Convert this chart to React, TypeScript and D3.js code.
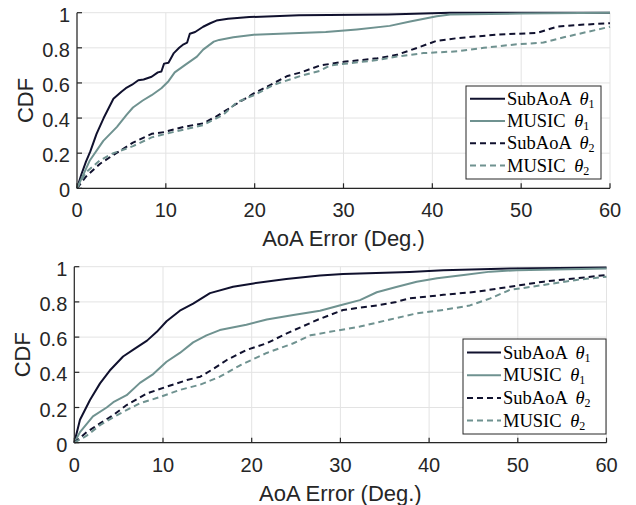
import React from "react";
import * as d3 from "d3";

type Pt = [number, number];

const xTicks = [0, 10, 20, 30, 40, 50, 60];
const yTicks = [0, 0.2, 0.4, 0.6, 0.8, 1];
const yTickLabels = ["0", "0.2", "0.4", "0.6", "0.8", "1"];
const seriesNames = ["SubAoA", "MUSIC", "SubAoA", "MUSIC"];
const seriesSubs = ["1", "1", "2", "2"];

// Top panel
const topSubAoA1: Pt[] = [[0,0],[0.5,0.08],[1,0.15],[1.5,0.21],[2.2,0.31],[3,0.4],[4.1,0.51],[5,0.55],[5.5,0.57],[6.2,0.59],[6.9,0.615],[7.5,0.62],[8.4,0.635],[9.1,0.66],[9.5,0.665],[9.8,0.71],[10.3,0.715],[10.9,0.77],[11.5,0.8],[12,0.82],[12.4,0.83],[12.7,0.88],[13.3,0.89],[14.2,0.92],[15,0.94],[15.7,0.955],[17,0.965],[19.4,0.975],[25,0.985],[35,0.99],[42,1],[60,1]];
const topMusic1: Pt[] = [[0,0],[1.46,0.16],[2.96,0.27],[4.5,0.35],[5.6,0.42],[6.3,0.46],[7.4,0.5],[8.4,0.53],[9.5,0.57],[10.3,0.61],[11,0.66],[12.1,0.7],[13.5,0.75],[14.2,0.79],[15.4,0.835],[16,0.845],[17.6,0.86],[19.9,0.875],[25,0.885],[28,0.89],[31.5,0.905],[35.2,0.925],[37.5,0.95],[40.5,0.98],[42,0.99],[50,0.995],[60,1]];
const topSubAoA2: Pt[] = [[0,0],[1,0.066],[2.6,0.14],[4.1,0.19],[6.3,0.26],[8.4,0.31],[9.8,0.32],[12,0.35],[14.2,0.37],[15.7,0.41],[17.6,0.47],[19.9,0.54],[22.2,0.6],[23.7,0.64],[25.2,0.66],[27.4,0.7],[30,0.72],[33.8,0.74],[36,0.76],[38.3,0.8],[40.5,0.84],[42.8,0.855],[47.3,0.875],[51.8,0.885],[54,0.92],[56.3,0.93],[60,0.94]];
const topMusic2: Pt[] = [[0,0],[1,0.09],[2.6,0.16],[4.1,0.2],[6.3,0.24],[8.4,0.29],[10.8,0.32],[14.2,0.36],[16.5,0.42],[18,0.49],[19.9,0.53],[22.2,0.59],[25.2,0.64],[27.4,0.67],[28.5,0.7],[33.8,0.73],[36,0.75],[39,0.77],[42.8,0.78],[45.8,0.8],[49.5,0.82],[52.5,0.83],[54.8,0.86],[60,0.92]];

// Bottom panel
const botSubAoA1: Pt[] = [[0,0],[0.64,0.13],[1.77,0.243],[2.9,0.337],[4,0.41],[5.5,0.49],[6.7,0.53],[8.2,0.58],[9.3,0.63],[10.4,0.69],[11.9,0.75],[13.4,0.79],[15.3,0.85],[17.9,0.886],[20.2,0.905],[23.9,0.93],[27.7,0.95],[30.3,0.958],[37.8,0.97],[41.6,0.98],[49.1,0.99],[60,0.995]];
const botMusic1: Pt[] = [[0,0],[0.64,0.06],[2.1,0.15],[3.65,0.2],[4.4,0.23],[5.9,0.27],[7.4,0.34],[8.9,0.39],[10.4,0.46],[11.9,0.51],[13.4,0.57],[14.9,0.61],[16.4,0.64],[19.4,0.67],[21.7,0.7],[24.7,0.725],[27.7,0.75],[29.9,0.78],[32.2,0.81],[34.1,0.855],[36.3,0.885],[38.6,0.915],[40.9,0.934],[43.9,0.953],[46.9,0.972],[49.9,0.98],[60,0.99]];
const botSubAoA2: Pt[] = [[0,0],[1.4,0.06],[2.9,0.11],[4.4,0.157],[5.9,0.214],[8.2,0.28],[10.4,0.318],[12.7,0.356],[14.2,0.375],[15.7,0.42],[17.2,0.47],[19.4,0.527],[21.7,0.565],[23.9,0.62],[27.5,0.7],[30.3,0.754],[34.1,0.78],[36.3,0.8],[37.8,0.82],[41.6,0.84],[45.4,0.858],[49.1,0.886],[52.9,0.915],[56.6,0.934],[60,0.953]];
const botMusic2: Pt[] = [[0,0],[1.4,0.04],[2.9,0.1],[5.2,0.167],[7.4,0.224],[9.7,0.26],[11.9,0.3],[14.2,0.33],[16.4,0.375],[18.7,0.44],[21.7,0.51],[24.7,0.565],[26.6,0.61],[28.8,0.63],[32.2,0.66],[35.6,0.7],[38.6,0.735],[41.6,0.754],[44.6,0.78],[46.9,0.82],[49.1,0.868],[52.9,0.896],[56.6,0.925],[60,0.943]];

const DARK = "#10112e";
const TEAL = "#6f9290";
const AXIS = "#262626";
const GRID = "#e3e3e3";
const colors = [DARK, TEAL, DARK, TEAL];
const dashes = [null, null, "6,4", "6,4"];

interface PanelProps {
  data: Pt[][];
  x0: number; x1: number; y0: number; y1: number;
  legend: { x: number; y: number; w: number; h: number; rowY: number[]; lineX0: number; lineX1: number; textX: number };
  yLabelX: number;
}

function Panel({ data, x0, x1, y0, y1, legend, yLabelX }: PanelProps) {
  const x = d3.scaleLinear().domain([0, 60]).range([x0, x1]);
  const y = d3.scaleLinear().domain([0, 1]).range([y1, y0]);
  const line = d3.line<Pt>().x((d) => x(d[0])).y((d) => y(d[1]));
  const sans = "'Liberation Sans', Arial, sans-serif";
  const serif = "'Liberation Serif', 'Times New Roman', serif";
  return (
    <g>
      {xTicks.map((t) => (
        <line key={"gx" + t} x1={x(t)} x2={x(t)} y1={y0} y2={y1} stroke={GRID} strokeWidth={1} />
      ))}
      {yTicks.map((t) => (
        <line key={"gy" + t} x1={x0} x2={x1} y1={y(t)} y2={y(t)} stroke={GRID} strokeWidth={1} />
      ))}
      {data.map((d, i) => (
        <path key={"s" + i} d={line(d) || ""} fill="none" stroke={colors[i]} strokeWidth={2}
          strokeDasharray={dashes[i] || undefined} strokeLinejoin="round" />
      ))}
      <line x1={x0} x2={x0} y1={y0} y2={y1} stroke={AXIS} strokeWidth={1.2} />
      <line x1={x0} x2={x1} y1={y1} y2={y1} stroke={AXIS} strokeWidth={1.2} />
      {xTicks.map((t) => (
        <g key={"tx" + t}>
          <line x1={x(t)} x2={x(t)} y1={y1} y2={y1 - 5} stroke={AXIS} strokeWidth={1.2} />
          <text x={x(t)} y={y1 + 29} textAnchor="middle" fontFamily={sans} fontSize={20} fill={AXIS}>{t}</text>
        </g>
      ))}
      {yTicks.map((t, i) => (
        <g key={"ty" + t}>
          <line x1={x0} x2={x0 + 5} y1={y(t)} y2={y(t)} stroke={AXIS} strokeWidth={1.2} />
          <text x={x0 - 7} y={y(t) + 9} textAnchor="end" fontFamily={sans} fontSize={20} fill={AXIS}>{yTickLabels[i]}</text>
        </g>
      ))}
      <text x={(x0 + x1) / 2} y={y1 + 58} textAnchor="middle" fontFamily={sans} fontSize={22} fill={AXIS}>AoA Error (Deg.)</text>
      <text transform={`translate(${yLabelX},${(y0 + y1) / 2}) rotate(-90)`} textAnchor="middle" fontFamily={sans} fontSize={22} fill={AXIS} dy="0.36em">CDF</text>
      <rect x={legend.x} y={legend.y} width={legend.w} height={legend.h} fill="white" stroke={AXIS} strokeWidth={1} />
      {seriesNames.map((n, i) => (
        <g key={"lg" + i}>
          <line x1={legend.lineX0} x2={legend.lineX1} y1={legend.rowY[i]} y2={legend.rowY[i]} stroke={colors[i]} strokeWidth={2}
            strokeDasharray={dashes[i] || undefined} />
          <text x={legend.textX} y={legend.rowY[i] + 6} fontFamily={serif} fontSize={18.5} fill="#000">
            {n + " "}
            <tspan fontStyle="italic" dx={4}>θ</tspan>
            <tspan fontSize={12} dy={3}>{seriesSubs[i]}</tspan>
          </text>
        </g>
      ))}
    </g>
  );
}

export default function App() {
  return (
    <svg width={636} height={505} style={{ position: "absolute", left: 0, top: 0, background: "white" }}>
      <rect x={0} y={0} width={636} height={505} fill="white" />
      <Panel
        data={[topSubAoA1, topMusic1, topSubAoA2, topMusic2]}
        x0={77} x1={610} y0={12.7} y1={188.3}
        yLabelX={25}
        legend={{ x: 466, y: 86, w: 135, h: 93, rowY: [98.7, 121, 143.3, 165.6], lineX0: 470, lineX1: 505, textX: 507 }}
      />
      <Panel
        data={[botSubAoA1, botMusic1, botSubAoA2, botMusic2]}
        x0={74.3} x1={606.5} y0={266.7} y1={442.7}
        yLabelX={22}
        legend={{ x: 463, y: 339, w: 143, h: 95, rowY: [352.5, 375.2, 397.9, 420.6], lineX0: 467, lineX1: 501, textX: 503 }}
      />
    </svg>
  );
}
